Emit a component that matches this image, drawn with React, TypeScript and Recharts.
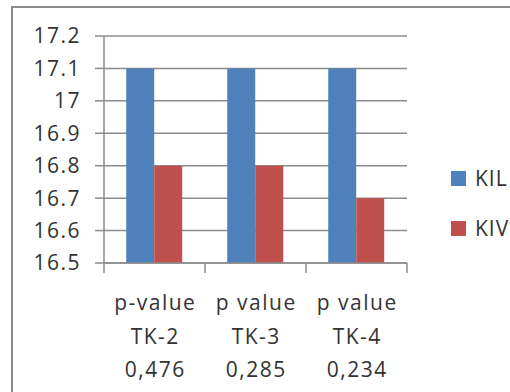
import React from 'react';
import { BarChart, Bar, XAxis, YAxis, CartesianGrid, Legend } from 'recharts';

const line1 = ['p-value', 'p value', 'p value'];
const line2 = ['TK-2', 'TK-3', 'TK-4'];
const line3 = ['0,476', '0,285', '0,234'];
const kilValues = [17.1, 17.1, 17.1];
const kivValues = [16.8, 16.8, 16.7];
const yTicks = [16.5, 16.6, 16.7, 16.8, 16.9, 17, 17.1, 17.2];
const seriesNames = ['KIL', 'KIV'];
const seriesColors = ['#4F81BD', '#C0504D'];

const data = line1.map((l, i) => ({
  name: [l, line2[i], line3[i]].join('|'),
  KIL: kilValues[i],
  KIV: kivValues[i],
}));

const FONT = '"Open Sans", sans-serif';
const TEXT = '#333333';
const GRID = '#8c8c8c';
const FS = 21;
const LS = 1.5;
const TICK = 10;

const XTick = (props: any) => {
  const { x, y, payload, index, visibleTicksCount } = props;
  const parts = String(payload.value).split('|');
  const half = payload.offset || 0;
  const axisY = y - 2;
  const count = visibleTicksCount ?? data.length;
  return (
    <g>
      <line x1={x - half} x2={x - half} y1={axisY} y2={axisY + TICK} stroke={GRID} strokeWidth={1.5} />
      {index === count - 1 && (
        <line x1={x + half} x2={x + half} y1={axisY} y2={axisY + TICK} stroke={GRID} strokeWidth={1.5} />
      )}
      {parts.map((p: string, i: number) => (
        <text key={i} x={x + LS / 2} y={axisY + 47 + i * 33.5} textAnchor="middle" fill={TEXT} fontSize={FS} letterSpacing={LS} fontFamily={FONT}>
          {p}
        </text>
      ))}
    </g>
  );
};

const LegendContent = () => (
  <div style={{ fontFamily: FONT, fontSize: FS, color: TEXT, letterSpacing: 1 }}>
    {seriesNames.map((n, i) => (
      <div key={n} style={{ display: 'flex', alignItems: 'center', height: 50 }}>
        <div style={{ width: 15, height: 15, background: seriesColors[i], marginRight: 9 }} />
        <span>{n}</span>
      </div>
    ))}
  </div>
);

export default function App() {
  return (
    <div style={{ position: 'absolute', left: 0, top: 0, width: 510, height: 392, overflow: 'hidden', background: '#fff' }}>
      <div style={{ position: 'absolute', left: 11, top: 6, width: 700, height: 600, border: '2px solid #8c8c8c', boxSizing: 'border-box' }} />
      <div style={{ position: 'absolute', left: 0, top: 0 }}>
        <BarChart width={510} height={392} data={data} margin={{ top: 36, right: 103, bottom: 0, left: 0 }} barCategoryGap="22%" barGap={0}>
          <CartesianGrid vertical={false} stroke={GRID} strokeWidth={1.5} />
          <XAxis
            dataKey="name"
            height={129}
            tick={<XTick />}
            tickLine={false}
            stroke={GRID}
            strokeWidth={1.5}
            tickSize={0}
            tickMargin={2}
            interval={0}
          />
          <YAxis
            width={104}
            domain={[16.5, 17.2]}
            ticks={yTicks}
            tickSize={9}
            tickMargin={14}
            stroke={GRID}
            strokeWidth={1.5}
            tick={{ fill: TEXT, fontSize: FS, fontFamily: FONT, letterSpacing: LS }}
            tickFormatter={(v: number) => String(v)}
            allowDataOverflow
          />
          <Legend
            layout="horizontal"
            verticalAlign="middle"
            align="center"
            content={<LegendContent />}
            wrapperStyle={{ position: 'absolute', left: 451, top: 153, width: 100 }}
          />
          <Bar dataKey="KIL" fill={seriesColors[0]} isAnimationActive={false} />
          <Bar dataKey="KIV" fill={seriesColors[1]} isAnimationActive={false} />
        </BarChart>
      </div>
    </div>
  );
}
